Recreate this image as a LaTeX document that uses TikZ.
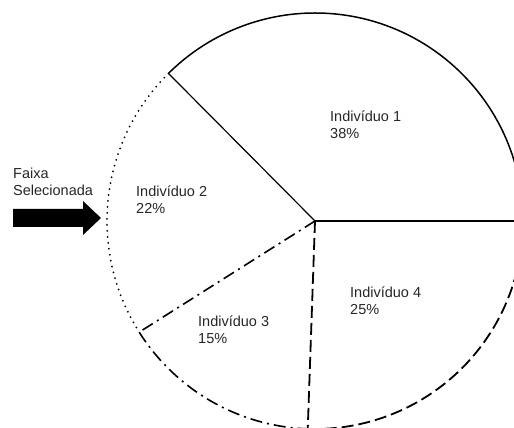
\documentclass[tikz,border=0pt]{standalone}
\usepackage{fontspec}
\setmainfont{Liberation Sans}
\usetikzlibrary{calc}
\def\pieR{208}

\tikzset{
  pielabel/.style={anchor=north west, inner sep=0pt, align=left, text=black!85, font=\fontsize{14.5}{17}\selectfont},
  rimsolid/.style={line width=1.5pt},
  rimthin/.style={line width=1.2pt},
  rimdots/.style={line width=2pt, line cap=round, dash pattern=on 0pt off 6pt},
  rimdashdot/.style={line width=1.6pt, dash pattern=on 12pt off 5pt on 2pt off 5pt},
  rimdash/.style={line width=1.8pt, dash pattern=on 12pt off 5pt}
}

\begin{document}
\begin{tikzpicture}[x=1pt,y=1pt]
  %%%%% START %%%%%
  \useasboundingbox (0,0) rectangle (514,428);

  \coordinate (c) at (315,207);
  \coordinate (p0) at ($(c)+(0:\pieR)$);
  \coordinate (p12) at ($(c)+(134.8:\pieR)$);
  \coordinate (p23) at ($(c)+(212.3:\pieR)$);
  \coordinate (p34) at ($(c)+(268:\pieR)$);

  % slice rims
  \draw[rimsolid] (p0) arc (0:134.8:\pieR);
  \draw[rimdots] (p12) arc (134.8:212.3:\pieR);
  \draw[rimdashdot] (p23) arc (212.3:268:\pieR);
  \draw[rimdash] (p34) arc (268:360:\pieR);

  % slice borders
  \draw[rimthin] (c) -- (p12);
  \draw[rimdashdot] (c) -- (p23);
  \draw[rimdash] (c) -- (p34);
  \draw[rimsolid] (c) -- (p0);
  \draw[rimdash, line width=2.2pt] (c) -- (p0);

  \node[pielabel] (ind1) at (330,317) {Indivíduo 1\\38\%};
  \node[pielabel] (ind2) at (136,242) {Indivíduo 2\\22\%};
  \node[pielabel] (ind3) at (198,112) {Indivíduo 3\\15\%};
  \node[pielabel] (ind4) at (350,141) {Indivíduo 4\\25\%};

  \node[pielabel] (faixa) at (13,260) {Faixa\\Selecionada};
  \fill (13,201) -- (83,201) -- (83,193) -- (101,210) -- (83,227) -- (83,219) -- (13,219) -- cycle;

  %%%%% END %%%%%
\end{tikzpicture}
\end{document}
